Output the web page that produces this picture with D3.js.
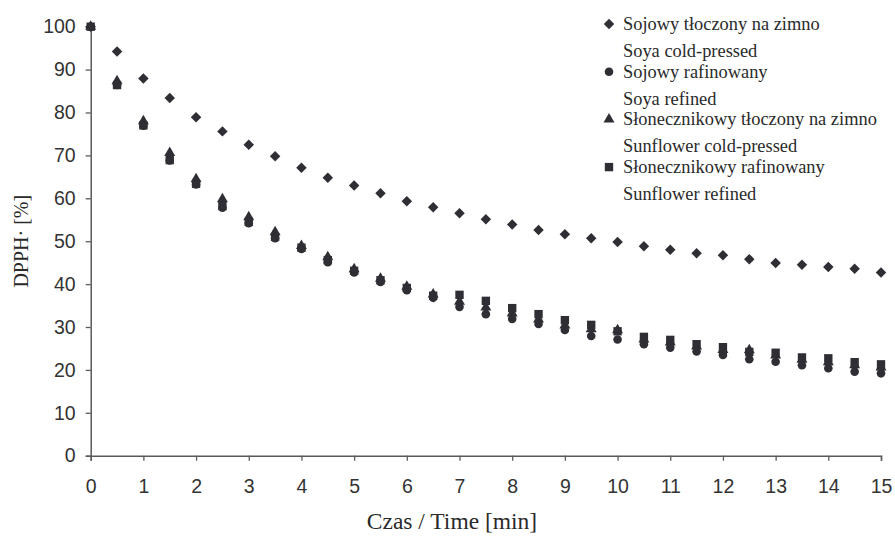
<!DOCTYPE html>
<html>
<head>
<meta charset="utf-8">
<script src="https://cdn.jsdelivr.net/npm/d3@7"></script>
<style>
  body { margin: 0; background: #fff; }
  svg { display: block; }
</style>
</head>
<body>
<div id="chart"></div>
<script>
// time in minutes
const times = [0, 0.5, 1, 1.5, 2, 2.5, 3, 3.5, 4, 4.5, 5, 5.5, 6, 6.5, 7, 7.5,
  8, 8.5, 9, 9.5, 10, 10.5, 11, 11.5, 12, 12.5, 13, 13.5, 14, 14.5, 15];

// DPPH [%] per oil
const soyColdPressed = [100, 94.2, 87.9, 83.4, 78.9, 75.6, 72.5, 69.8, 67.1, 64.8, 63.0,
  61.2, 59.3, 57.9, 56.5, 55.1, 53.9, 52.6, 51.6, 50.7, 49.8, 48.8, 48.0, 47.2, 46.7,
  45.8, 44.9, 44.5, 44.0, 43.6, 42.7];
const soyRefined = [100, 86.4, 76.9, 68.8, 63.2, 57.8, 54.2, 50.7, 48.2, 45.1, 42.7,
  40.5, 38.6, 36.8, 34.7, 33.0, 31.9, 30.7, 29.3, 27.9, 27.1, 26.0, 25.2, 24.3, 23.5,
  22.5, 21.9, 21.1, 20.4, 19.6, 19.2];
const sunColdPressed = [100, 87.3, 78.0, 70.6, 64.5, 59.8, 55.6, 52.1, 48.9, 46.3, 43.5,
  41.3, 39.4, 37.6, 35.9, 34.6, 33.2, 31.8, 30.4, 29.5, 29.3, 27.1, 26.4, 25.5, 24.7,
  24.6, 23.4, 22.4, 21.8, 21.1, 20.6];
const sunRefined = [100, 86.4, 77.0, 68.9, 63.4, 58.2, 54.5, 51.0, 48.5, 45.6, 43.1,
  40.9, 39.1, 37.3, 37.5, 36.1, 34.4, 33.0, 31.6, 30.5, 29.0, 27.7, 27.0, 26.0, 25.3,
  24.2, 24.0, 22.9, 22.7, 21.8, 21.3];

const seriesNames = [
  ['Sojowy tłoczony na zimno', 'Soya cold-pressed'],
  ['Sojowy rafinowany', 'Soya refined'],
  ['Słonecznikowy tłoczony na zimno', 'Sunflower cold-pressed'],
  ['Słonecznikowy rafinowany', 'Sunflower refined']
];
const seriesValues = [soyColdPressed, soyRefined, sunColdPressed, sunRefined];

const xTicks = d3.range(0, 16, 1);
const yTicks = d3.range(0, 101, 10);

const W = 895, H = 537;
const margin = { top: 26.7, right: 14, bottom: 81.3, left: 90.7 };
const width = W - margin.left - margin.right;
const height = H - margin.top - margin.bottom;

const ink = '#2e2e34';
const axisColor = '#5a5a5a';

const svg = d3.select('#chart').append('svg')
  .attr('width', W)
  .attr('height', H);

const g = svg.append('g')
  .attr('transform', `translate(${margin.left},${margin.top})`);

const x = d3.scaleLinear().domain([0, 15]).range([0, width]);
const y = d3.scaleLinear().domain([0, 100]).range([height, 0]);

// marker shapes (diamond = rotated square)
const shapes = [
  { type: d3.symbolSquare, size: 55, rotate: 45 },
  { type: d3.symbolCircle, size: 58, rotate: 0 },
  { type: d3.symbolTriangle, size: 52, rotate: 0 },
  { type: d3.symbolSquare, size: 70, rotate: 0 }
];

// axes
const xAxis = g.append('g')
  .attr('transform', `translate(0,${height})`)
  .call(d3.axisBottom(x).tickValues(xTicks).tickSize(5).tickPadding(18));
const yAxis = g.append('g')
  .call(d3.axisLeft(y).tickValues(yTicks).tickSize(5).tickPadding(10));

[xAxis, yAxis].forEach(a => {
  a.select('.domain').attr('stroke', axisColor).attr('stroke-width', 1.5);
  a.selectAll('.tick line').attr('stroke', axisColor).attr('stroke-width', 1.3);
  a.selectAll('.tick text')
    .attr('fill', '#333')
    .style('font-family', '"Liberation Sans", Arial, sans-serif')
    .style('font-size', '19.5px');
});

// points
seriesValues.forEach((vals, si) => {
  const sh = shapes[si];
  const sym = d3.symbol().type(sh.type).size(sh.size);
  g.append('g').selectAll('path')
    .data(vals)
    .enter()
    .append('path')
    .attr('d', sym)
    .attr('fill', ink)
    .attr('transform', (d, i) => `translate(${x(times[i])},${y(d)}) rotate(${sh.rotate})`);
});

// legend
const serif = '"Liberation Serif", "Times New Roman", serif';
const legend = svg.append('g').attr('transform', 'translate(609,0)');
seriesNames.forEach((names, i) => {
  const base = 30 + i * 47.7;
  const sh = shapes[i];
  legend.append('path')
    .attr('d', d3.symbol().type(sh.type).size(sh.size)())
    .attr('fill', ink)
    .attr('transform', `translate(0,${base - 6}) rotate(${sh.rotate})`);
  legend.append('text')
    .attr('x', 14).attr('y', base)
    .style('font-family', serif).style('font-size', '18.4px')
    .attr('fill', '#2a2a2a')
    .text(names[0]);
  legend.append('text')
    .attr('x', 14).attr('y', base + 27)
    .style('font-family', serif).style('font-size', '18.4px')
    .attr('fill', '#2a2a2a')
    .text(names[1]);
});

// axis titles
svg.append('text')
  .attr('x', 452)
  .attr('y', 529)
  .attr('text-anchor', 'middle')
  .style('font-family', serif).style('font-size', '23.5px')
  .attr('fill', '#2a2a2a')
  .text('Czas / Time [min]');

svg.append('text')
  .attr('transform', `translate(28,${margin.top + height / 2}) rotate(-90)`)
  .attr('text-anchor', 'middle')
  .style('font-family', serif).style('font-size', '20px')
  .attr('fill', '#2a2a2a')
  .text('DPPH· [%]');
</script>
</body>
</html>
